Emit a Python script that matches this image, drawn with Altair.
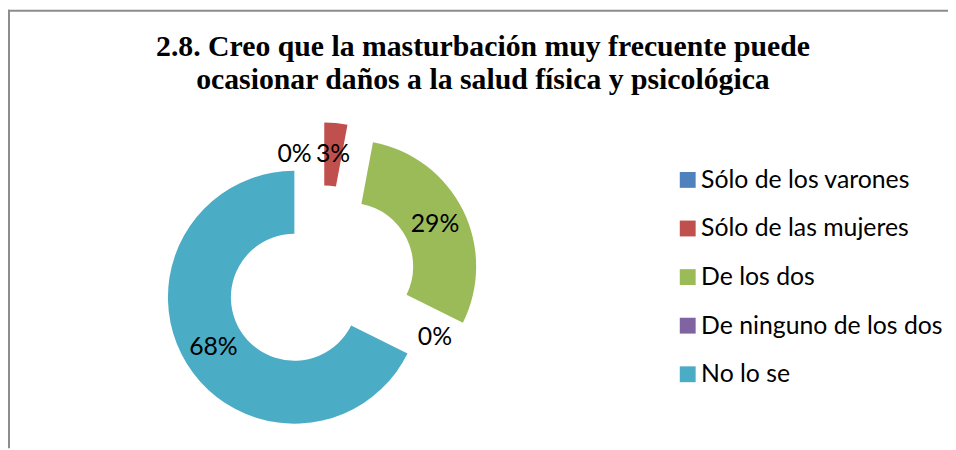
import altair as alt
import pandas as pd

categories = ["Sólo de los varones", "Sólo de las mujeres", "De los dos",
              "De ninguno de los dos", "No lo se"]
values = [0, 1, 10, 0, 23]
colors = ["#4F81BD", "#C0504D", "#9BBB59", "#8064A2", "#4BACC6"]
title_lines = ["2.8. Creo que la masturbación muy frecuente puede",
               "ocasionar daños a la salud física y psicológica"]

df = pd.DataFrame({"cat": categories, "value": values, "idx": list(range(len(categories)))})

W, H = 948, 442
CX, CY = 316, 273      # unexploded donut centre (px)
EXPLODE = 32           # radial explosion (px)
R_OUT, R_IN = 127.5, 64
R_LAB = 96

base = alt.Chart(df).transform_joinaggregate(
    total="sum(value)"
).transform_window(
    cum="sum(value)", sort=[alt.SortField("idx")], frame=[None, 0]
).transform_calculate(
    start="(datum.cum - datum.value) / datum.total * 2 * PI",
    end="datum.cum / datum.total * 2 * PI",
    pct="datum.value / datum.total",
).transform_calculate(
    mid="(datum.start + datum.end) / 2",
).transform_calculate(
    cx=f"{CX} + {EXPLODE} * sin(datum.mid)",
    cy=f"{CY} - {EXPLODE} * cos(datum.mid)",
    nudge="datum.idx === 0 ? -27 : 0",
).transform_calculate(
    lx=f"datum.cx + {R_LAB} * sin(datum.mid) + datum.nudge",
    ly=f"datum.cy - {R_LAB} * cos(datum.mid)",
)

arcs = base.mark_arc(radius=R_OUT, radius2=R_IN, strokeWidth=0).encode(
    theta=alt.Theta("start:Q", scale=None),
    theta2=alt.Theta2("end:Q"),
    x=alt.X("cx:Q", scale=None, axis=None),
    y=alt.Y("cy:Q", scale=None, axis=None),
    color=alt.Color(
        "cat:N",
        scale=alt.Scale(domain=categories, range=colors),
        sort=categories,
        legend=alt.Legend(
            title=None, orient="none", legendX=673, legendY=159,
            symbolType="square", symbolSize=256, symbolStrokeWidth=0,
            labelFont="Lato", labelFontSize=25, labelColor="#000000",
            labelOffset=1, rowPadding=23, labelLimit=400,
        ),
    ),
)

labels = base.mark_text(font="Lato", fontSize=25, color="#000000",
                        align="center", baseline="middle").encode(
    x=alt.X("lx:Q", scale=None, axis=None),
    y=alt.Y("ly:Q", scale=None, axis=None),
    text=alt.Text("pct:Q", format=".0%"),
)

title = alt.Chart(alt.Data(values=[{}])).mark_text(
    text=title_lines, font="Liberation Serif", fontSize=30, fontWeight="bold",
    color="#000000", align="center", baseline="alphabetic", lineHeight=33,
).encode(x=alt.value(479), y=alt.value(47))

frame_top = alt.Chart(alt.Data(values=[{}])).mark_rule(
    color="#8c8c8c", strokeWidth=2).encode(
    x=alt.value(0), x2=alt.value(W), y=alt.value(1))
frame_left = alt.Chart(alt.Data(values=[{}])).mark_rule(
    color="#8c8c8c", strokeWidth=2).encode(
    x=alt.value(1), y=alt.value(0), y2=alt.value(H))

chart = alt.layer(frame_top, frame_left, arcs, labels, title).properties(
    width=W, height=H, padding=0,
    autosize=alt.AutoSizeParams(type="none"),
).configure(background="white").configure_view(stroke=None)

chart.save("out.html", embed_options={"renderer": "svg", "actions": False})
